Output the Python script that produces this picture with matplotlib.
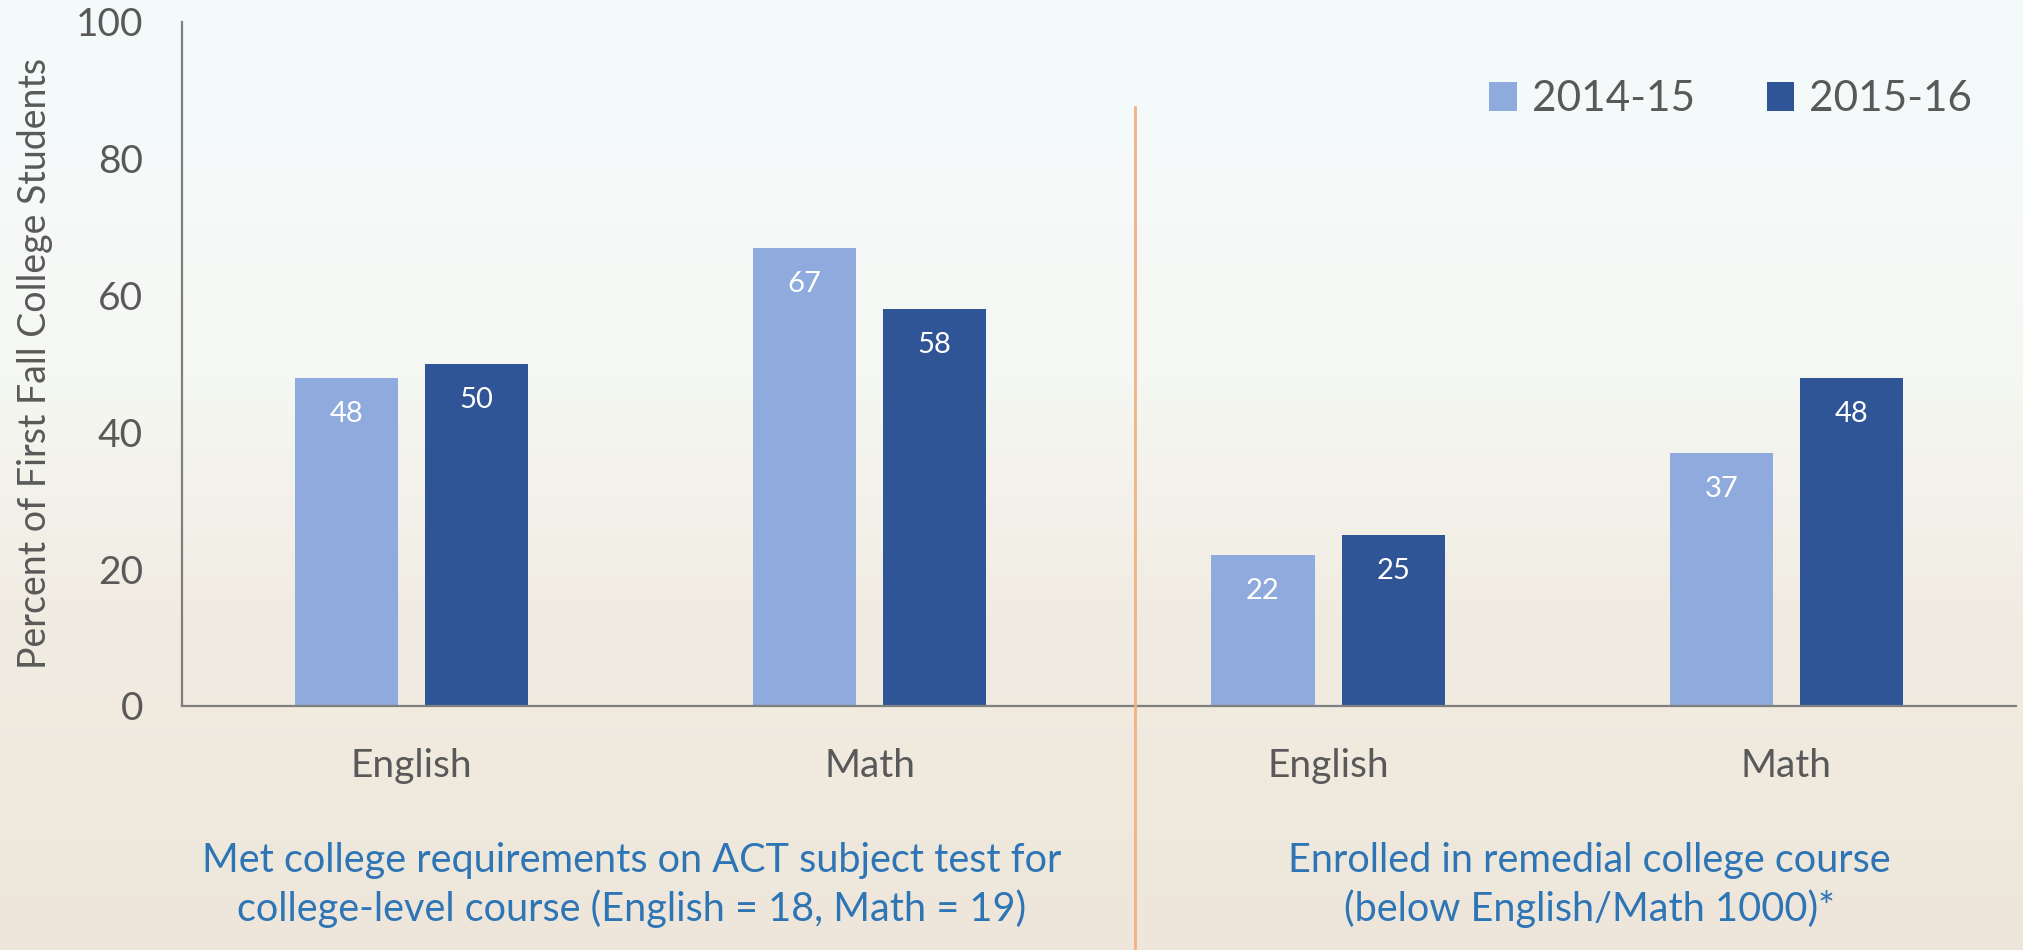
import numpy as np
import matplotlib
matplotlib.use("Agg")
import matplotlib.pyplot as plt
from matplotlib.colors import LinearSegmentedColormap
from matplotlib.lines import Line2D

plt.rcParams['font.family'] = ['Lato', 'DejaVu Sans']

categories = ['English', 'Math', 'English', 'Math']
series_names = ['2014-15', '2015-16']
vals_1415 = [48, 67, 22, 37]
vals_1516 = [50, 58, 25, 48]
group_labels = ['Met college requirements on ACT subject test for\ncollege-level course (English = 18, Math = 19)',
                'Enrolled in remedial college course\n(below English/Math 1000)*']
group_pos = [0.48, 2.57]

light = '#8FAADC'
dark = '#2F5597'
gray = '#595959'
blue_txt = '#2E75B6'

fig = plt.figure(figsize=(20.24, 9.5), dpi=100)

# background gradient
bg = fig.add_axes([0, 0, 1, 1], zorder=-10)
cmap = LinearSegmentedColormap.from_list('bg', [
    (0.0, '#EEE6DA'), (0.35, '#F1ECE2'), (0.6, '#F5F7F2'), (0.85, '#F5FAFA'), (1.0, '#F3FAFB')])
grad = np.linspace(0, 1, 256).reshape(-1, 1)
bg.imshow(grad, aspect='auto', cmap=cmap, origin='lower', extent=[0, 1, 0, 1])
bg.axis('off')

ax = fig.add_axes([0.0899, 0.257, 0.906, 0.72])
ax.patch.set_alpha(0)

x = np.arange(len(categories))
w = 0.225
off = 0.142
b1 = ax.bar(x - off, vals_1415, w, color=light, label=series_names[0])
b2 = ax.bar(x + off, vals_1516, w, color=dark, label=series_names[1])

for bars in (b1, b2):
    for r in bars:
        ax.annotate(f'{r.get_height():.0f}', (r.get_x() + r.get_width() / 2, r.get_height()),
                    xytext=(0, -26), textcoords='offset points', ha='center', va='center',
                    color='white', fontsize=21)

ax.set_xlim(-0.5, 3.5)
ax.set_ylim(0, 100)
ax.set_yticks(range(0, 101, 20))
ax.set_xticks(x)
ax.set_xticklabels(categories)
ax.tick_params(axis='both', length=0, labelsize=28, colors=gray)
ax.tick_params(axis='y', pad=28)
ax.tick_params(axis='x', pad=30)
for s in ['top', 'right']:
    ax.spines[s].set_visible(False)
for s in ['left', 'bottom']:
    ax.spines[s].set_color('#7F7F7F')
    ax.spines[s].set_linewidth(1.6)

ax.set_ylabel('Percent of First Fall College Students', fontsize=27, color=gray, labelpad=16)

for lbl, gx in zip(group_labels, group_pos):
    ax.text(gx, -0.262, lbl, transform=ax.get_xaxis_transform(), ha='center', va='center',
            fontsize=28.5, color=blue_txt, linespacing=1.3)

leg = ax.legend(loc='upper right', bbox_to_anchor=(0.997, 0.97), ncol=2, frameon=False,
                fontsize=30.5, handlelength=0.65, handleheight=0.65, handletextpad=0.35,
                columnspacing=1.7, labelcolor=gray)

# divider between the two groups
fig.add_artist(Line2D([0.561, 0.561], [0, 0.887], color='#F4B183', linewidth=2))

fig.savefig('out.png', dpi=100)
